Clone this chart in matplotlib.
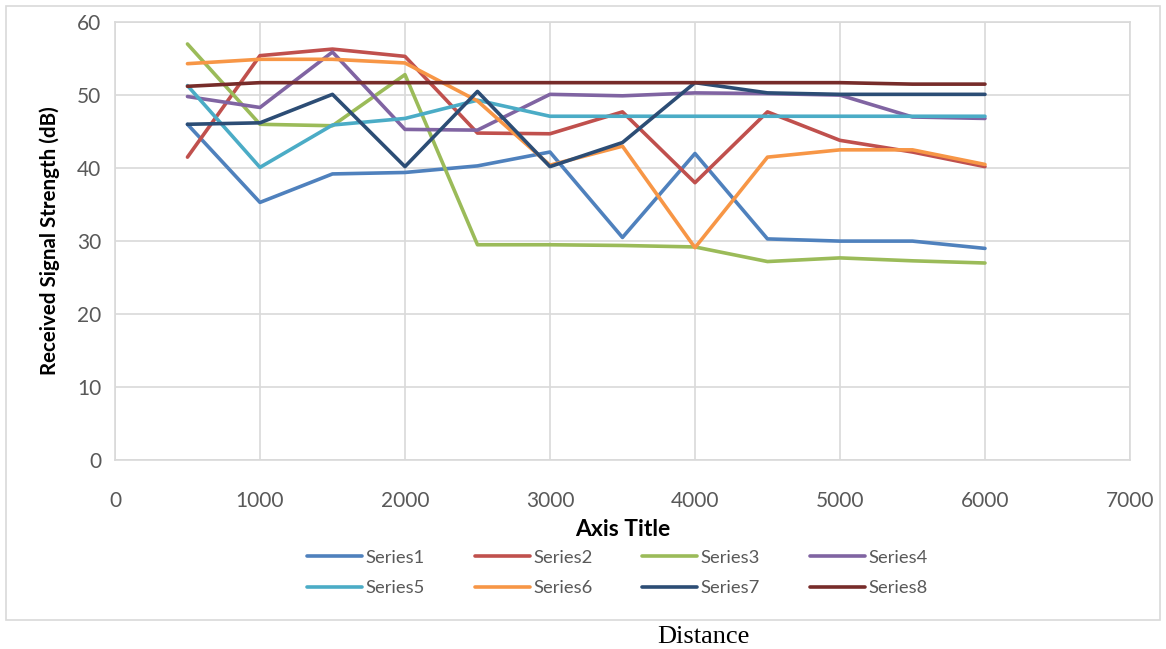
import matplotlib
matplotlib.use("Agg")
import matplotlib.pyplot as plt
from matplotlib.patches import Rectangle

distance = [500, 1000, 1500, 2000, 2500, 3000, 3500, 4000, 4500, 5000, 5500, 6000]

series1 = [46.0, 35.3, 39.2, 39.4, 40.3, 42.2, 30.5, 42.0, 30.3, 30.0, 30.0, 29.0]
series2 = [41.5, 55.4, 56.3, 55.3, 44.8, 44.7, 47.7, 38.0, 47.7, 43.8, 42.2, 40.2]
series3 = [57.0, 46.0, 45.8, 52.8, 29.5, 29.5, 29.4, 29.2, 27.2, 27.7, 27.3, 27.0]
series4 = [49.8, 48.3, 55.9, 45.3, 45.2, 50.1, 49.9, 50.3, 50.2, 50.0, 47.0, 46.8]
series5 = [51.3, 40.1, 45.9, 46.8, 49.3, 47.1, 47.1, 47.1, 47.1, 47.1, 47.1, 47.1]
series6 = [54.3, 54.9, 54.9, 54.4, 49.2, 40.4, 43.0, 29.1, 41.5, 42.5, 42.5, 40.5]
series7 = [46.0, 46.2, 50.1, 40.2, 50.5, 40.2, 43.5, 51.7, 50.3, 50.1, 50.1, 50.1]
series8 = [51.2, 51.7, 51.7, 51.7, 51.7, 51.7, 51.7, 51.7, 51.7, 51.7, 51.5, 51.5]

names = ["Series1", "Series2", "Series3", "Series4", "Series5", "Series6", "Series7", "Series8"]
values = [series1, series2, series3, series4, series5, series6, series7, series8]
colors = ["#4F81BD", "#C0504D", "#9BBB59", "#8064A2", "#4BACC6", "#F79646", "#2C4D75", "#772C2A"]

plt.rcParams['font.family'] = ['Lato', 'DejaVu Sans']

fig = plt.figure(figsize=(11.66, 6.49), dpi=100)
ax = fig.add_axes([0.0986, 0.291, 0.8705, 0.675])

# outer chart border
fig.patches.append(Rectangle((0.005, 0.045), 0.99, 0.945, transform=fig.transFigure,
                             fill=False, edgecolor="#D9D9D9", linewidth=1.2))

lines = []
for name, v, c in zip(names, values, colors):
    ln, = ax.plot(distance, v, color=c, linewidth=2.6, label=name, solid_capstyle='round')
    lines.append(ln)

ax.set_xlim(0, 7000)
ax.set_ylim(0, 60)
ax.set_xticks(range(0, 7001, 1000))
ax.set_yticks(range(0, 61, 10))
ax.grid(True, color="#D9D9D9", linewidth=1.2)
ax.set_axisbelow(True)
for s in ax.spines.values():
    s.set_color("#D9D9D9")
    s.set_linewidth(1.2)
ax.tick_params(length=0, labelsize=15, colors="#595959", pad=10)
ax.tick_params(axis='x', pad=22)

ax.set_ylabel("Received Signal Strength (dB)", fontsize=14.8, fontweight='bold', labelpad=12)
ax.set_xlabel("Axis Title", fontsize=16.5, fontweight='bold', labelpad=6)

# row-major legend order (matplotlib fills columns first)
order = [0, 4, 1, 5, 2, 6, 3, 7]
leg = ax.legend([lines[i] for i in order], [names[i] for i in order],
                loc='upper center', bbox_to_anchor=(0.495, -0.167), ncol=4, frameon=False,
                fontsize=13.2, handlelength=3.0, columnspacing=2.7, handletextpad=0.2,
                labelspacing=0.8)
for t in leg.get_texts():
    t.set_color("#595959")

fig.text(0.603, 0.018, "Distance", fontsize=19, family='Liberation Serif', ha='center', va='center')

fig.savefig("out.png", dpi=100)
